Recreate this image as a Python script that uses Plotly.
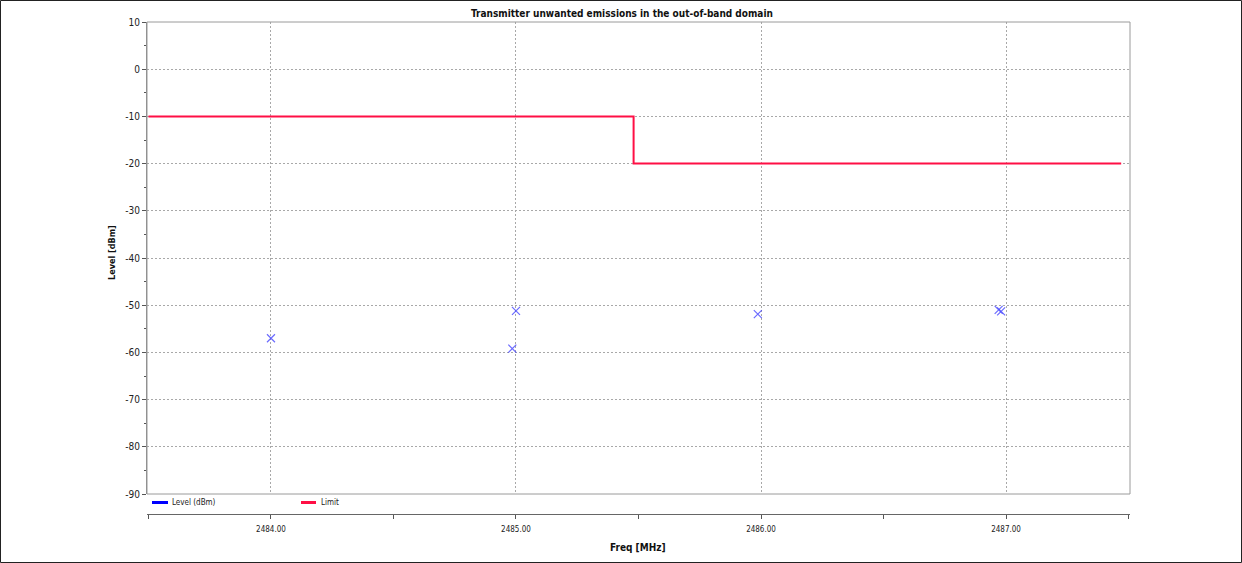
import plotly.graph_objects as go

# Measured emission peaks
level_freq = [2484.0, 2484.985, 2485.0, 2485.987, 2486.97, 2486.98]
level_dbm = [-57.0, -59.2, -51.2, -51.9, -51.0, -51.3]

# Out-of-band limit mask (step)
limit_freq = [2483.5, 2485.48, 2487.47]
limit_dbm = [-10, -20, -20]

# Axis ticks
y_ticks = [10, 0, -10, -20, -30, -40, -50, -60, -70, -80, -90]
y_tick_labels = ["10", "0", "-10", "-20", "-30", "-40", "-50", "-60", "-70", "-80", "-90"]
x_ticks = [2484.0, 2485.0, 2486.0, 2487.0]
x_tick_labels = ["2484.00", "2485.00", "2486.00", "2487.00"]

x_range = [2483.494, 2487.506]
y_range = [-90, 10]

NARROW = "DejaVu Sans Condensed, Liberation Sans Narrow, Liberation Sans, sans-serif"

W, H = 1242, 563
L, R, T, B = 147, 1242 - 1130, 22, 563 - 514
PW, PH = W - L - R, H - T - B


def px(xpix):
    return (xpix - L) / PW


def py(ypix):
    return (H - B - ypix) / PH


fig = go.Figure()

fig.add_trace(go.Scatter(
    x=limit_freq, y=limit_dbm, mode="lines", name="Limit",
    line=dict(color="#ff0f45", width=2, shape="hv"),
    showlegend=False,
))
fig.add_trace(go.Scatter(
    x=level_freq, y=level_dbm, mode="markers", name="Level (dBm)",
    marker=dict(symbol="x-thin", size=8, line=dict(color="rgba(70,70,255,0.8)", width=1.2)),
    showlegend=False,
))

grid_dash = "2px,2px"

fig.update_xaxes(
    range=x_range, anchor="free", position=0,
    tickvals=x_ticks, ticktext=x_tick_labels,
    ticks="outside", ticklen=4, tickcolor="#555", ticklabelstandoff=3,
    minor=dict(dtick=0.5, tick0=2484, ticks="outside", ticklen=4, tickcolor="#555", showgrid=False),
    showline=True, linecolor="#666", linewidth=1,
    showgrid=True, gridcolor="#a8a8a8", griddash=grid_dash, gridwidth=1,
    zeroline=False,
    tickfont=dict(family=NARROW, size=8, color="#222"),
)
fig.update_yaxes(
    range=y_range, domain=[py(494), 1],
    tickvals=y_ticks, ticktext=y_tick_labels,
    ticks="outside", ticklen=4, tickcolor="#555",
    minor=dict(dtick=5, ticks="outside", ticklen=2, tickcolor="#555", showgrid=False),
    showline=True, linecolor="#888", linewidth=1,
    showgrid=True, gridcolor="#a8a8a8", griddash=grid_dash, gridwidth=1,
    zeroline=False,
    tickfont=dict(family=NARROW, size=10, color="#222"),
)

shapes = [
    # plot frame
    dict(type="rect", xref="x domain", yref="y domain", x0=0, x1=1, y0=0, y1=1,
         line=dict(color="#9a9a9a", width=1), fillcolor="rgba(0,0,0,0)", layer="above"),
    # legend swatches
    dict(type="line", xref="paper", yref="paper", x0=px(152), x1=px(168), y0=py(502.5), y1=py(502.5),
         line=dict(color="#0000ff", width=3)),
    dict(type="line", xref="paper", yref="paper", x0=px(301), x1=px(316), y0=py(502.5), y1=py(502.5),
         line=dict(color="#ff0f45", width=3)),
    # outer frame
    dict(type="rect", xref="paper", yref="paper", x0=px(0.5), x1=px(W - 0.5), y0=py(0.5), y1=py(H - 0.5),
         line=dict(color="#222", width=1), fillcolor="rgba(0,0,0,0)"),
]

annotations = [
    dict(text="<b>Transmitter unwanted emissions in the out-of-band domain</b>",
         xref="paper", yref="paper", x=px(621.5), y=py(14), xanchor="center", yanchor="middle",
         showarrow=False, font=dict(family=NARROW, size=10, color="#111")),
    dict(text="<b>Level [dBm]</b>", textangle=-90,
         xref="paper", yref="paper", x=px(112), y=py(253), xanchor="center", yanchor="middle",
         showarrow=False, font=dict(family=NARROW, size=9, color="#111")),
    dict(text="<b>Freq [MHz]</b>",
         xref="paper", yref="paper", x=px(638), y=py(547), xanchor="center", yanchor="middle",
         showarrow=False, font=dict(family=NARROW, size=10, color="#111")),
    dict(text="Level (dBm)",
         xref="paper", yref="paper", x=px(170), y=py(502.5), xanchor="left", yanchor="middle",
         showarrow=False, font=dict(family=NARROW, size=8, color="#222")),
    dict(text="Limit",
         xref="paper", yref="paper", x=px(319), y=py(502.5), xanchor="left", yanchor="middle",
         showarrow=False, font=dict(family=NARROW, size=8, color="#222")),
]

fig.update_layout(
    width=W, height=H,
    margin=dict(l=L, r=R, t=T, b=B, pad=0),
    paper_bgcolor="white", plot_bgcolor="white",
    shapes=shapes, annotations=annotations,
    showlegend=False,
)

fig.write_html("out.html")
